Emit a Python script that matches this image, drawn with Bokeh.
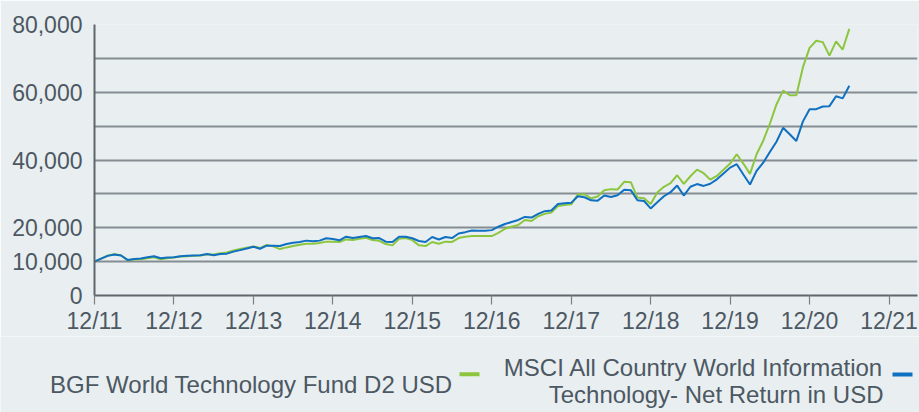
from bokeh.plotting import figure
from bokeh.layouts import column, row
from bokeh.models import Range1d, FixedTicker, NumeralTickFormatter
from bokeh.core.properties import value
from bokeh.embed import file_html
from bokeh.resources import INLINE

# Monthly values, Dec 2011 (index 0) to Jun 2021 (index 114), growth of 10,000
fund = [10000, 10900, 11800, 12200, 11900, 10400, 10600, 10700, 11000, 11300,
        10700, 11000, 11200, 11500, 11600, 11700, 11800, 12100, 12100, 12500,
        12700, 13300, 13700, 14100, 14500, 14000, 14900, 14500, 13700, 14200,
        14600, 15000, 15300, 15300, 15500, 15900, 15900, 15800, 16550, 16350,
        16750, 17050, 16350, 16150, 15200, 14800, 16750, 16950, 16350, 14800,
        14600, 15800, 15300, 15900, 15800, 16950, 17350, 17550, 17550, 17550,
        17550, 18500, 19700, 20300, 20800, 22300, 22000, 23400, 24100, 24500,
        26400, 26700, 26900, 29800, 29900, 28700, 29200, 31100, 31400, 31300,
        33550, 33450, 28900, 28700, 27000, 30400, 32100, 33150, 35500, 32950,
        35200, 37150, 36100, 34200, 35300, 37150, 38950, 41700, 38950, 35900,
        41700, 45700, 50700, 56400, 60500, 59100, 59100, 67400, 73100, 75200,
        74800, 70800, 75000, 72600, 78700]

index = [10000, 10900, 11700, 12100, 11800, 10500, 10800, 10900, 11300, 11600,
         11000, 11200, 11300, 11600, 11700, 11800, 11900, 12250, 11900, 12250,
         12350, 12950, 13400, 13900, 14400, 13800, 14700, 14700, 14600, 15200,
         15600, 15800, 16200, 16000, 16200, 16900, 16700, 16300, 17350, 16950,
         17250, 17550, 16900, 16950, 15900, 15800, 17350, 17350, 16900, 16100,
         15800, 17250, 16550, 17250, 16950, 18300, 18700, 19200, 19100, 19100,
         19300, 20300, 21100, 21700, 22300, 23200, 23000, 24100, 24900, 25100,
         27000, 27250, 27350, 29300, 29000, 28100, 28000, 29500, 29100, 29600,
         31200, 31100, 28100, 27900, 25700, 27550, 29300, 30500, 32450, 29500,
         32100, 32900, 32350, 33000, 34300, 36000, 37750, 38750, 35700, 32750,
         36800, 39200, 42350, 45400, 49500, 47600, 45600, 51400, 55000, 55000,
         55800, 55900, 58800, 58200, 61900]

months = list(range(len(fund)))

x_ticks = [0, 12, 24, 36, 48, 60, 72, 84, 96, 108, 120]
x_labels = ["12/11", "12/12", "12/13", "12/14", "12/15", "12/16",
            "12/17", "12/18", "12/19", "12/20", "12/21"]
y_ticks = [0, 10000, 20000, 40000, 60000, 80000]
y_grid = [10000, 20000, 30000, 40000, 50000, 60000, 70000, 80000]

fund_name = "BGF World Technology Fund D2 USD"
index_name_1 = "MSCI All Country World Information"
index_name_2 = "Technology- Net Return in USD"

BG = "#e9eef1"
GREEN = "#8cc63f"
BLUE = "#0f6fc0"
TEXT = "#4c5862"
FONT = "Liberation Sans"

p = figure(width=919, height=336, output_backend="svg", toolbar_location=None,
           title_location=None,
           x_range=Range1d(0, 124.3), y_range=Range1d(0, 80000),
           min_border_left=94, min_border_right=2, min_border_top=24,
           min_border_bottom=40)
p.background_fill_color = BG
p.border_fill_color = BG
p.outline_line_color = None

p.line(months, fund, line_color=GREEN, line_width=2)
p.line(months, index, line_color=BLUE, line_width=2)

p.xgrid.visible = False
p.ygrid.ticker = FixedTicker(ticks=y_grid)
p.ygrid.grid_line_color = "#868d92"
p.ygrid.grid_line_width = 1.8

xa = p.xaxis[0]
xa.ticker = FixedTicker(ticks=x_ticks)
xa.major_label_overrides = {t: l for t, l in zip(x_ticks, x_labels)}
xa.minor_tick_line_color = None
xa.major_tick_out = 9
xa.major_tick_in = 0
xa.major_tick_line_color = "#7a8287"
xa.major_tick_line_width = 1.2
xa.axis_line_color = "#5f676c"
xa.axis_line_width = 2
xa.major_label_standoff = 3
xa.major_label_text_font = FONT
xa.major_label_text_font_size = "23px"
xa.major_label_text_color = TEXT

ya = p.yaxis[0]
ya.ticker = FixedTicker(ticks=y_ticks)
ya.formatter = NumeralTickFormatter(format="0,0")
ya.minor_tick_line_color = None
ya.major_tick_out = 0
ya.major_tick_in = 0
ya.axis_line_color = "#5f676c"
ya.axis_line_width = 2
ya.major_label_standoff = 12
ya.major_label_text_font = FONT
ya.major_label_text_font_size = "23px"
ya.major_label_text_color = TEXT

# Legend strip below the chart; ranges expressed in page pixels
# (the strip is drawn starting 8px below the chart figure).
lg = figure(width=919, height=76, output_backend="svg", toolbar_location=None,
            title_location=None,
            x_range=Range1d(0, 919), y_range=Range1d(420, 344),
            x_axis_location=None, y_axis_location=None,
            min_border=0, min_border_left=0, min_border_right=0,
            min_border_top=0, min_border_bottom=0)
lg.grid.visible = False
lg.outline_line_color = None
lg.background_fill_color = BG
lg.border_fill_color = BG

lg.text(x=[452, 883, 883], y=[391.5, 375, 401.5],
        text=[fund_name, index_name_1, index_name_2],
        text_font=value(FONT), text_font_size="24px", text_color=TEXT,
        text_align="right", text_baseline="alphabetic")
lg.rect(x=[469, 902], y=[381.7, 382], width=20, height=4,
        fill_color=[GREEN, BLUE], line_color=None)

open("out.html", "w").write(file_html(column(p, row(lg), spacing=0), INLINE))
